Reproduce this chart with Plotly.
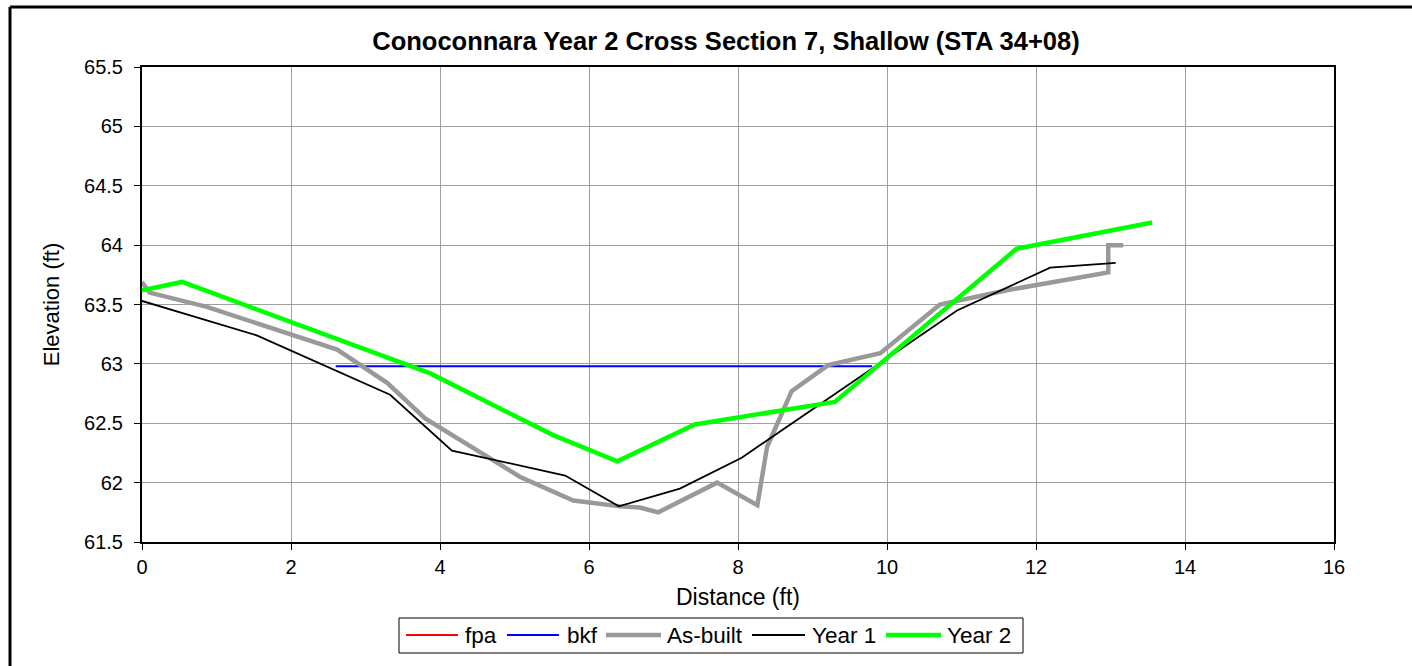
import plotly.graph_objects as go

# ---- Survey data: station distance (ft) vs. elevation (ft) ----
fpa_x = []
fpa_y = []

bkf_x = [2.6, 9.8]
bkf_y = [62.98, 62.98]

asbuilt_x = [0.0, 0.1, 0.87, 2.62, 3.29, 3.8, 5.07, 5.79, 6.42, 6.68, 6.93,
             7.72, 8.26, 8.39, 8.72, 9.21, 9.91, 10.71, 11.61, 12.97, 12.97, 13.17]
asbuilt_y = [63.69, 63.60, 63.48, 63.12, 62.84, 62.54, 62.05, 61.85, 61.80, 61.79, 61.75,
             62.00, 61.81, 62.30, 62.77, 62.99, 63.09, 63.50, 63.62, 63.77, 64.00, 64.00]

year1_x = [0.0, 1.54, 3.33, 4.16, 5.68, 6.40, 7.22, 8.05, 10.94, 12.19, 13.07]
year1_y = [63.53, 63.24, 62.74, 62.27, 62.06, 61.80, 61.95, 62.21, 63.45, 63.81, 63.85]

year2_x = [0.0, 0.54, 3.87, 5.52, 6.38, 7.42, 9.30, 11.74, 13.56]
year2_y = [63.62, 63.69, 62.92, 62.40, 62.18, 62.49, 62.68, 63.97, 64.19]

series_names = ["fpa", "bkf", "As-built", "Year 1", "Year 2"]
series_colors = ["#FF0000", "#0000FF", "#999999", "#000000", "#00FF00"]
series_widths = [2, 2, 4.5, 1.8, 4.5]

x_ticks = [0, 2, 4, 6, 8, 10, 12, 14, 16]
y_ticks = [61.5, 62, 62.5, 63, 63.5, 64, 64.5, 65, 65.5]

FONT = "Liberation Sans, Arial, sans-serif"

# ---- Canvas / plot-area geometry (pixels) ----
W, H = 1412, 666
PL, PR, PT, PB = 142, 1334, 67, 542


def px_x(p):
    return (p - PL) / (PR - PL)


def px_y(p):
    return (PB - p) / (PB - PT)


fig = go.Figure()
data = [(fpa_x, fpa_y), (bkf_x, bkf_y), (asbuilt_x, asbuilt_y),
        (year1_x, year1_y), (year2_x, year2_y)]
for (xs, ys), name, col, lw in zip(data, series_names, series_colors, series_widths):
    fig.add_trace(go.Scatter(x=xs, y=ys, mode="lines", name=name,
                             line=dict(color=col, width=lw),
                             showlegend=False, cliponaxis=True))

shapes = []
annotations = []

# outer chart frame: left and top edges (the rest runs off the canvas)
shapes.append(dict(type="line", xref="paper", yref="paper",
                   x0=px_x(10), x1=px_x(10), y0=px_y(H + 5), y1=px_y(7),
                   line=dict(color="black", width=3), layer="above"))
shapes.append(dict(type="line", xref="paper", yref="paper",
                   x0=px_x(10), x1=px_x(W + 5), y0=px_y(7), y1=px_y(7),
                   line=dict(color="black", width=3), layer="above"))

# legend box with line samples and labels
legend_box = (399, 618, 1023, 653)
legend_line_x = [(406, 458), (507, 559), (606, 661), (752, 805), (886, 941)]
legend_text_x = [463, 565, 665, 810, 945]
legend_y = 635
shapes.append(dict(type="rect", xref="paper", yref="paper",
                   x0=px_x(legend_box[0]), x1=px_x(legend_box[2]),
                   y0=px_y(legend_box[3]), y1=px_y(legend_box[1]),
                   line=dict(color="black", width=1), fillcolor="white"))
for (x0, x1), tx, name, col, lw in zip(legend_line_x, legend_text_x, series_names,
                                       series_colors, series_widths):
    shapes.append(dict(type="line", xref="paper", yref="paper",
                       x0=px_x(x0), x1=px_x(x1), y0=px_y(legend_y), y1=px_y(legend_y),
                       line=dict(color=col, width=lw)))
    annotations.append(dict(text=name, xref="paper", yref="paper",
                            x=px_x(tx), y=px_y(legend_y), xanchor="left", yanchor="middle",
                            showarrow=False, font=dict(family=FONT, size=22.5, color="black")))

fig.update_layout(
    width=W, height=H,
    margin=dict(l=PL, r=W - PR, t=PT, b=H - PB, pad=0),
    paper_bgcolor="white", plot_bgcolor="white",
    showlegend=False,
    title=dict(text="<b>Conoconnara Year 2 Cross Section 7, Shallow (STA 34+08)</b>",
               x=px_x(726), xref="paper", xanchor="center",
               y=1 - 41 / H, yref="container", yanchor="middle",
               font=dict(family=FONT, size=25.5, color="black")),
    xaxis=dict(range=[0, 16], tickvals=x_ticks, ticktext=[str(v) for v in x_ticks],
               showgrid=True, gridcolor="#9e9e9e", gridwidth=1,
               showline=True, linecolor="black", linewidth=2, mirror=True,
               ticks="outside", ticklen=6, tickcolor="black", tickwidth=1,
               tickfont=dict(family=FONT, size=20, color="black"),
               title=dict(text="Distance (ft)", standoff=12,
                          font=dict(family=FONT, size=23, color="black")),
               zeroline=False, automargin=False),
    yaxis=dict(range=[61.5, 65.5], tickvals=y_ticks, ticktext=[f"{v:g}" for v in y_ticks],
               showgrid=True, gridcolor="#9e9e9e", gridwidth=1,
               showline=True, linecolor="black", linewidth=2, mirror=True,
               ticks="outside", ticklen=6, tickcolor="black", tickwidth=1,
               tickfont=dict(family=FONT, size=20, color="black"),
               ticklabelstandoff=7,
               title=dict(text="Elevation (ft)", standoff=18,
                          font=dict(family=FONT, size=22, color="black")),
               zeroline=False, automargin=False),
    shapes=shapes,
    annotations=annotations,
)

fig.write_html("out.html")
